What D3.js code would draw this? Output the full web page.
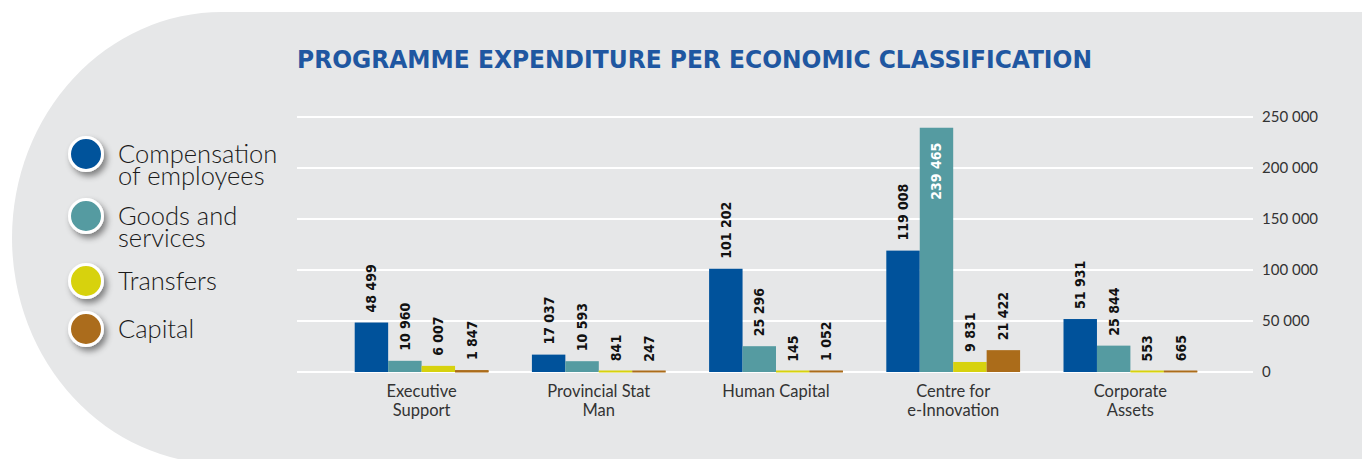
<!DOCTYPE html>
<html>
<head>
<meta charset="utf-8">
<script src="https://cdn.jsdelivr.net/npm/d3@7"></script>
<style>
  html, body { margin: 0; padding: 0; background: #ffffff; }
  svg { display: block; }
</style>
</head>
<body>
<svg id="chart" width="1362" height="459"></svg>
<script>
// ---- Data ----
const categories = ["Executive Support", "Provincial Stat Man", "Human Capital", "Centre for e-Innovation", "Corporate Assets"];
const categoryLines = [["Executive", "Support"], ["Provincial Stat", "Man"], ["Human Capital"], ["Centre for", "e-Innovation"], ["Corporate", "Assets"]];
const seriesNames = ["Compensation of employees", "Goods and services", "Transfers", "Capital"];
const legendLines = [["Compensation", "of employees"], ["Goods and", "services"], ["Transfers"], ["Capital"]];
const compensation = [48499, 17037, 101202, 119008, 51931];
const goodsServices = [10960, 10593, 25296, 239465, 25844];
const transfers = [6007, 841, 145, 9831, 553];
const capital = [1847, 247, 1052, 21422, 665];
const yTicks = [0, 50000, 100000, 150000, 200000, 250000];
const colors = ["#00529b", "#559ba1", "#d7d20e", "#ab6c1a"];
const title = "PROGRAMME EXPENDITURE PER ECONOMIC CLASSIFICATION";

const seriesValues = [compensation, goodsServices, transfers, capital];

const locale = d3.formatLocale({ decimal: ".", thousands: " ", grouping: [3], currency: ["", ""] });
const fmt = locale.format(",d");

const svg = d3.select("#chart");
const defs = svg.append("defs");
const f = defs.append("filter").attr("id", "shadow").attr("x", "-50%").attr("y", "-50%").attr("width", "220%").attr("height", "220%");
f.append("feDropShadow").attr("dx", 3).attr("dy", 4).attr("stdDeviation", 3).attr("flood-color", "#000").attr("flood-opacity", 0.45);

// ---- Background shape ----
const bg = "#e6e7e8";
svg.append("ellipse").attr("cx", 222).attr("cy", 238).attr("rx", 210).attr("ry", 226).attr("fill", bg);
svg.append("rect").attr("x", 222).attr("y", 12).attr("width", 1362 - 222).attr("height", 459 - 12).attr("fill", bg);

// ---- Title ----
svg.append("text")
  .attr("x", 297).attr("y", 68)
  .attr("font-family", "'DejaVu Sans Condensed', 'DejaVu Sans', sans-serif")
  .attr("font-weight", "bold").attr("font-size", 25)
  .attr("fill", "#1f57a1")
  .attr("textLength", 795).attr("lengthAdjust", "spacingAndGlyphs")
  .text(title);

// ---- Scales ----
const y = d3.scaleLinear().domain([0, 250000]).range([372, 117]);
const x0 = d3.scaleBand().domain(categories).range([333, 1219]).paddingInner(0.245).paddingOuter(0.1225);
const x1 = d3.scaleBand().domain(seriesNames).range([0, x0.bandwidth()]).padding(0);

// ---- Gridlines ----
svg.append("g").selectAll("line").data(yTicks).join("line")
  .attr("x1", 297).attr("x2", 1253)
  .attr("y1", d => y(d)).attr("y2", d => y(d))
  .attr("stroke", "#ffffff").attr("stroke-width", 2.2);

// ---- Y axis labels (right) ----
svg.append("g").selectAll("text").data(yTicks).join("text")
  .attr("x", 1262).attr("y", d => y(d))
  .attr("dy", "0.36em")
  .attr("font-family", "Lato, 'DejaVu Sans', sans-serif")
  .attr("font-size", 15).attr("fill", "#333")
  .text(d => fmt(d));

// ---- Bars ----
const rows = [];
categories.forEach((c, i) => {
  seriesNames.forEach((s, j) => {
    rows.push({ cat: c, ser: s, si: j, v: seriesValues[j][i] });
  });
});

const bars = svg.append("g");
bars.selectAll("rect").data(rows).join("rect")
  .attr("x", d => x0(d.cat) + x1(d.ser))
  .attr("width", x1.bandwidth())
  .attr("y", d => y(d.v))
  .attr("height", d => Math.max(0, y(0) - y(d.v)))
  .attr("fill", d => colors[d.si]);

// small base lines so tiny bars remain visible
bars.selectAll("line.base").data(rows.filter(d => y(0) - y(d.v) < 2)).join("line")
  .attr("class", "base")
  .attr("x1", d => x0(d.cat) + x1(d.ser)).attr("x2", d => x0(d.cat) + x1(d.ser) + x1.bandwidth())
  .attr("y1", 371.5).attr("y2", 371.5)
  .attr("stroke", d => colors[d.si]).attr("stroke-width", 2);

// ---- Value labels ----
svg.append("g").selectAll("text").data(rows).join("text")
  .attr("transform", d => {
    const cx = x0(d.cat) + x1(d.ser) + x1.bandwidth() / 2;
    const inside = d.v > 200000;
    const yy = inside ? y(d.v) + 15 : y(d.v) - 10;
    return `translate(${cx},${yy}) rotate(-90)`;
  })
  .attr("text-anchor", d => d.v > 200000 ? "end" : "start")
  .attr("dominant-baseline", "central")
  .attr("font-family", "'DejaVu Sans Condensed', 'DejaVu Sans', sans-serif")
  .attr("font-weight", "bold").attr("font-size", 14)
  .attr("fill", d => d.v > 200000 ? "#ffffff" : "#111")
  .text(d => fmt(d.v));

// ---- Category labels ----
const catG = svg.append("g");
categories.forEach((c, i) => {
  categoryLines[i].forEach((ln, k) => {
    catG.append("text")
      .attr("x", x0(c) + x0.bandwidth() / 2).attr("y", 397 + k * 19)
      .attr("text-anchor", "middle")
      .attr("font-family", "Lato, 'DejaVu Sans', sans-serif")
      .attr("font-size", 16.5).attr("fill", "#333")
      .text(ln);
  });
});

// ---- Legend ----
const legendY = [154, 216, 281, 329];
const lg = svg.append("g");
seriesNames.forEach((s, i) => {
  lg.append("circle").attr("cx", 86).attr("cy", legendY[i]).attr("r", 16.5)
    .attr("fill", colors[i]).attr("stroke", "#ffffff").attr("stroke-width", 3)
    .attr("filter", "url(#shadow)");
  legendLines[i].forEach((ln, k) => {
    lg.append("text")
      .attr("x", 118)
      .attr("y", legendY[i] + 9 + k * 22)
      .attr("font-family", "Lato, 'DejaVu Sans', sans-serif")
      .attr("font-weight", 300)
      .attr("font-size", 25.5).attr("fill", "#1a1a1a")
      .text(ln);
  });
});
</script>
</body>
</html>
